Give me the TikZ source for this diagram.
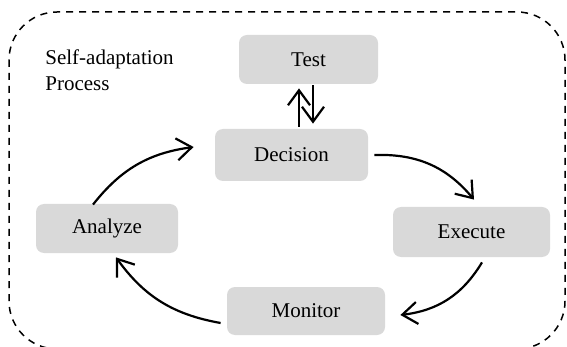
\documentclass[tikz,border=0pt]{standalone}
\usepackage{fontspec}
\setmainfont{Liberation Serif}
\usetikzlibrary{arrows.meta}

\definecolor{stepgray}{RGB}{217,217,217}

\begin{document}
\begin{tikzpicture}[
  x=0.5pt, y=-0.5pt,
  font=\fontsize{10.5}{13}\selectfont,
  phase/.style={fill=stepgray, rounded corners=4pt, inner sep=0pt, align=center},
  arrow/.style={-{Straight Barb[length=7.5pt, width=11pt]}, line width=1.1pt}
]
\useasboundingbox (0,0) rectangle (567,347);
% outer process boundary
\draw[line width=0.75pt, dash pattern=on 3.5pt off 3pt, rounded corners=24pt]
  (9,12) rectangle (565,349);
\node[anchor=north west, inner sep=0pt, align=left] (title) at (45,49) {Self-adaptation\\Process};

\node[phase, minimum width=69.5pt, minimum height=24.5pt] (test) at (308.5,59.5) {Test};
\node[phase, minimum width=76.5pt, minimum height=26pt] (decision) at (291.5,155) {Decision};
\node[phase, minimum width=71pt, minimum height=24.5pt] (analyze) at (107,228.5) {Analyze};
\node[phase, minimum width=78.5pt, minimum height=25pt] (execute) at (471.5,232) {Execute};
\node[phase, minimum width=79pt, minimum height=24pt] (monitor) at (306,311) {Monitor};

% the loop
\draw[arrow] ([shift={(-14,1)}]analyze.north) to[bend left=22] ([shift={(-21,-8)}]decision.west);
\draw[arrow] ([shift={(6,0)}]decision.east) to[bend left=26] ([shift={(2.5,-7)}]execute.north);
\draw[arrow] ([shift={(10.5,5)}]execute.south) to[bend left=26] ([shift={(15,4)}]monitor.east);
\draw[arrow] ([shift={(-6,12)}]monitor.west) to[bend left=22] ([shift={(9,4)}]analyze.south);
% test exchange
\draw[arrow] ([shift={(7.5,-2)}]decision.north) -- ([shift={(-9.5,4)}]test.south);
\draw[arrow] ([shift={(4.5,1)}]test.south) -- ([shift={(21.5,-5)}]decision.north);
\end{tikzpicture}
\end{document}
